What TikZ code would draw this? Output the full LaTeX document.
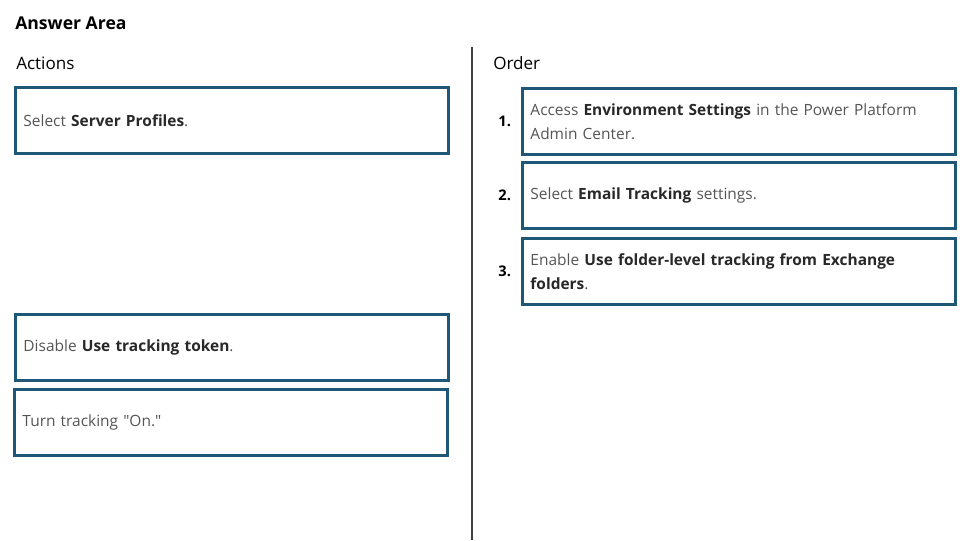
\documentclass[tikz,border=0pt]{standalone}
\usepackage{fontspec}
\setmainfont{Open Sans}
\usepackage{tikz}
\usetikzlibrary{positioning, calc}
\usepackage{xcolor}
\definecolor{boxblue}{RGB}{31,88,118}
\definecolor{plaintxt}{RGB}{85,85,85}
\definecolor{boldtxt}{RGB}{40,40,40}
\newcommand{\bt}[1]{\textbf{\color{boldtxt}#1}}

\begin{document}
\begin{tikzpicture}[x=0.75pt, y=-0.75pt,
	answerbox/.style={draw=boxblue, line width=2.2pt, fill=white, anchor=north west,
		minimum width=325pt, minimum height=49.5pt, inner xsep=5.5pt,
		text width=313pt, align=left, text=plaintxt,
		font=\fontsize{11.6}{18}\selectfont},
	numlabel/.style={font=\bfseries\fontsize{11}{12}\selectfont, text=black},
	header/.style={font=\fontsize{12.8}{14}\selectfont, text=black, anchor=west, inner sep=0pt}]
			\useasboundingbox (0,0) rectangle (971,540);

			% Titulos
			\node[header, font=\bfseries\fontsize{13.2}{15}\selectfont] (titulo) at (15,23) {Answer Area};
			\node[header] (acciones) at (16,63) {Actions};
			\node[header] (orden) at (493,63) {Order};

			% Separador
			\coordinate (sepTop) at (472,47);
			\coordinate (sepBot) at (472,540);
			\draw[line width=0.9pt, black!75] (sepTop) -- (sepBot);

			% Acciones
			\node[answerbox] (servidor) at (14,86) {Select \bt{Server Profiles}.};
			\node[answerbox] (token) at (14,313) {Disable \bt{Use tracking token}.};
			\node[answerbox] (activar) at (13,388) {Turn tracking \textquotedbl On.\textquotedbl};

			% Orden
			\node[answerbox] (entorno) at (521,87) {Access \bt{Environment Settings} in the Power Platform\\Admin Center.};
			\node[answerbox] (correo) at (521,161) {Select \bt{Email Tracking} settings.};
			\node[answerbox] (carpetas) at (521,237) {Enable \bt{Use folder-level tracking from Exchange}\\\bt{folders}.};

			\node[numlabel, left=4pt of entorno] (uno) {1.};
			\node[numlabel, left=4pt of correo] (dos) {2.};
			\node[numlabel, left=4pt of carpetas] (tres) {3.};
		\end{tikzpicture}
\end{document}
